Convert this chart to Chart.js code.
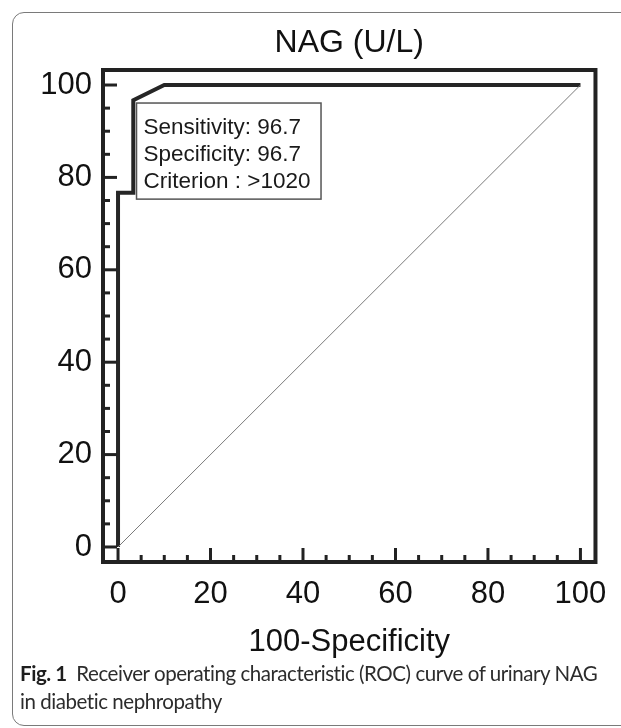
<!DOCTYPE html>
<html><head><meta charset="utf-8">
<script src="https://cdn.jsdelivr.net/npm/chart.js@4.4.1/dist/chart.umd.min.js"></script>
<style>
html,body{margin:0;padding:0;background:#fff;}
body{width:621px;height:728px;position:relative;overflow:hidden;}
#frame{position:absolute;left:12px;top:12px;width:660px;height:714px;border:1.5px solid #7a7a7a;border-radius:12px;box-sizing:border-box;}
#wrap{position:absolute;left:0;top:0;width:621px;height:661px;}
#cap{position:absolute;left:20px;top:659px;font-family:Lato,"Open Sans",sans-serif;font-size:20.5px;line-height:28px;color:#2c2c2c;white-space:nowrap;}
#cap b{color:#1e1e1e;}
</style></head><body>
<div id="frame"></div>
<div id="wrap"><canvas id="c" width="621" height="661"></canvas></div>
<div id="cap"><span id="l1"><b>Fig. 1</b>&nbsp; Receiver operating characteristic (ROC) curve of urinary NAG</span><br><span id="l2">in diabetic nephropathy</span></div>
<script>
// ---- data ----
const rocX = [0, 0, 3.3, 3.3, 10, 100];
const rocY = [0, 76.7, 76.7, 96.7, 100, 100];
const refX = [0, 100];
const refY = [0, 100];
const tickValues = [0,5,10,15,20,25,30,35,40,45,50,55,60,65,70,75,80,85,90,95,100];
const labelValues = [0, 20, 40, 60, 80, 100];
const titleText = "NAG (U/L)";
const xTitleText = "100-Specificity";
const annotationLines = ["Sensitivity: 96.7", "Specificity: 96.7", "Criterion : >1020"];
const annotationBox = {x0: 4.0, x1: 43.9, yTop: 96.1, yBottom: 75.3};

// fit caption line 1 to its width in the figure
(function(){
  const cap = document.getElementById('cap');
  const l1 = document.getElementById('l1');
  const w = l1.getBoundingClientRect().width;
  const n = l1.textContent.length;
  const ls = (578 - w) / n;
  cap.style.letterSpacing = ls.toFixed(3) + 'px';
})();

const FONT = '"Liberation Sans", Arial, sans-serif';

const rocPlugin = {
  id: 'roc',
  beforeDatasetsDraw(chart) {
    const {ctx, scales: {x, y}} = chart;
    const l = x.getPixelForValue(annotationBox.x0), r = x.getPixelForValue(annotationBox.x1);
    const t = y.getPixelForValue(annotationBox.yTop), b = y.getPixelForValue(annotationBox.yBottom);
    ctx.save();
    ctx.fillStyle = '#fff';
    ctx.fillRect(l, t, r - l, b - t);
    ctx.strokeStyle = '#555'; ctx.lineWidth = 1.5;
    ctx.strokeRect(l, t, r - l, b - t);
    ctx.fillStyle = '#1a1a1a';
    ctx.font = '22.5px ' + FONT;
    ctx.textAlign = 'left'; ctx.textBaseline = 'alphabetic';
    annotationLines.forEach((s, i) => ctx.fillText(s, l + 7, t + 31 + i * 27));
    ctx.restore();
  },
  afterDraw(chart) {
    const {ctx, chartArea: a, scales: {x, y}} = chart;
    ctx.save();
    ctx.strokeStyle = '#222'; ctx.lineWidth = 3; ctx.lineCap = 'butt';
    tickValues.forEach(v => {
      const major = labelValues.includes(v);
      const len = major ? 14 : 7;
      const px = x.getPixelForValue(v);
      ctx.beginPath(); ctx.moveTo(px, a.bottom); ctx.lineTo(px, a.bottom - len); ctx.stroke();
      const py = y.getPixelForValue(v);
      ctx.beginPath(); ctx.moveTo(a.left, py); ctx.lineTo(a.left + len, py); ctx.stroke();
    });
    ctx.lineWidth = 4; ctx.strokeStyle = '#222';
    ctx.strokeRect(a.left, a.top, a.right - a.left, a.bottom - a.top);
    ctx.fillStyle = '#111';
    ctx.font = '32px ' + FONT;
    ctx.textAlign = 'center'; ctx.textBaseline = 'alphabetic';
    ctx.fillText(titleText, (a.left + a.right) / 2, a.top - 18);
    ctx.restore();
  }
};

const tickFont = {family: FONT, size: 31};

new Chart(document.getElementById('c'), {
  type: 'scatter',
  data: {
    datasets: [
      {data: refX.map((v, i) => ({x: v, y: refY[i]})), showLine: true, borderColor: '#7a7a7a', borderWidth: 1, pointRadius: 0, tension: 0},
      {data: rocX.map((v, i) => ({x: v, y: rocY[i]})), showLine: true, borderColor: '#262626', borderWidth: 4, pointRadius: 0, tension: 0, borderJoinStyle: 'miter', clip: false}
    ]
  },
  options: {
    responsive: false, animation: false, devicePixelRatio: 1,
    layout: {padding: {left: 0, top: 70, right: 23, bottom: 0}},
    plugins: {legend: {display: false}, tooltip: {enabled: false}, title: {display: false}},
    scales: {
      x: {
        type: 'linear', min: -3.25, max: 103.25,
        afterBuildTicks: s => { s.ticks = tickValues.map(v => ({value: v})); },
        afterFit: s => { s.height = 99; },
        grid: {display: false, drawTicks: false}, border: {display: false},
        ticks: {font: tickFont, color: '#111', padding: 14, maxRotation: 0, autoSkip: false,
                callback: v => labelValues.includes(v) ? String(v) : ''},
        title: {display: true, text: xTitleText, font: {family: FONT, size: 31}, color: '#111', padding: {top: 0, bottom: 0}}
      },
      y: {
        type: 'linear', min: -3.25, max: 103.25,
        afterBuildTicks: s => { s.ticks = tickValues.map(v => ({value: v})); },
        afterFit: s => { s.width = 103; },
        grid: {display: false, drawTicks: false}, border: {display: false},
        ticks: {font: tickFont, color: '#111', padding: 11, autoSkip: false,
                callback: v => labelValues.includes(v) ? String(v) : ''}
      }
    }
  },
  plugins: [rocPlugin]
});
</script>
</body></html>
